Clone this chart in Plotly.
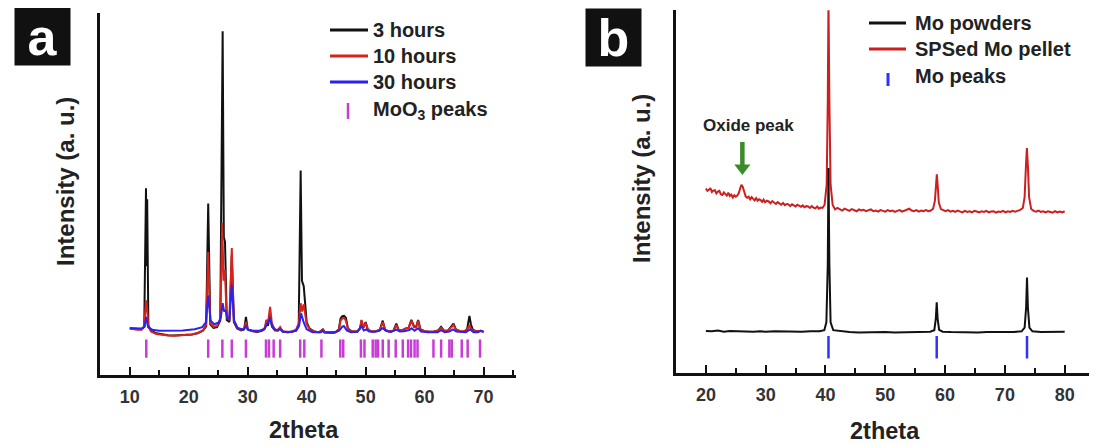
import plotly.graph_objects as go

# ---------------- data ----------------
# Panel a: XRD of milled samples (2theta, intensity a.u.)
hours3 = [(10.0,12.9),(10.6,12.8),(11.3,12.7),(12.0,12.6),(12.45,13.3),(12.75,51.5),(12.85,30.0),(12.95,48.5),(13.15,13.6),(13.6,12.2),(14.5,11.5),(15.5,11.2),(16.5,11.0),(17.5,10.9),(18.5,11.0),(19.5,11.0),(20.5,11.2),(21.5,11.5),(22.4,12.2),(22.95,13.4),(23.3,47.3),(23.65,14.0),(24.2,13.0),(24.8,13.2),(25.35,15.0),(25.75,94.8),(25.95,38.0),(26.15,36.7),(26.45,15.2),(26.9,14.6),(27.3,33.0),(27.65,14.6),(28.2,12.8),(28.9,12.3),(29.4,12.6),(29.7,16.0),(30.0,12.6),(30.8,12.1),(31.6,11.9),(32.4,12.2),(32.9,12.8),(33.15,14.3),(33.45,13.6),(33.75,16.5),(34.1,13.4),(34.6,12.3),(35.1,12.2),(35.5,13.0),(35.9,12.0),(36.7,11.8),(37.5,11.9),(38.2,12.3),(38.65,13.8),(38.98,56.4),(39.2,26.0),(39.5,24.5),(39.7,21.0),(40.0,14.5),(40.5,12.8),(41.3,12.0),(42.1,11.8),(42.5,12.3),(42.75,12.6),(43.1,11.8),(44.0,11.7),(44.9,11.8),(45.45,12.6),(45.75,15.6),(46.05,16.2),(46.35,16.3),(46.65,15.8),(47.0,12.8),(47.7,12.0),(48.6,12.0),(49.05,12.8),(49.3,15.0),(49.6,13.0),(50.0,14.6),(50.35,12.6),(51.0,12.0),(51.7,12.1),(52.4,12.4),(52.9,15.0),(53.3,12.4),(54.0,12.0),(54.7,12.2),(55.2,14.2),(55.6,12.4),(56.2,12.3),(56.7,12.8),(57.3,13.0),(57.75,15.2),(58.2,13.4),(58.55,13.2),(58.9,15.2),(59.3,12.6),(60.0,12.1),(60.8,11.9),(61.6,12.0),(62.3,12.3),(62.8,13.3),(63.3,12.2),(64.0,12.3),(64.5,13.2),(64.9,14.2),(65.3,12.6),(66.0,12.1),(66.7,12.0),(67.2,12.6),(67.6,16.3),(67.85,14.0),(68.2,12.4),(68.9,12.0),(69.5,12.2),(70.0,11.9)]

hours10 = [(10.0,12.8),(10.6,12.6),(11.3,12.5),(12.0,12.5),(12.45,13.4),(12.75,20.6),(12.95,18.0),(13.15,13.4),(13.6,12.0),(14.5,11.3),(15.5,11.0),(16.5,10.9),(17.5,10.8),(18.5,10.9),(19.5,11.0),(20.5,11.2),(21.5,11.6),(22.4,12.3),(22.95,13.8),(23.3,33.9),(23.65,14.3),(24.2,13.3),(24.8,13.5),(25.35,15.5),(25.68,42.0),(25.9,26.0),(26.12,29.0),(26.45,15.8),(26.9,15.2),(27.3,35.0),(27.65,15.0),(28.2,13.0),(28.9,12.5),(29.4,12.7),(29.7,14.6),(30.0,12.6),(30.8,12.1),(31.6,12.0),(32.4,12.3),(32.9,13.0),(33.15,15.2),(33.45,14.6),(33.8,18.8),(34.1,14.2),(34.6,12.5),(35.1,12.3),(35.5,13.2),(35.9,12.1),(36.7,11.9),(37.5,12.0),(38.2,12.5),(38.65,14.2),(38.98,19.8),(39.2,17.5),(39.5,19.5),(39.75,17.0),(40.0,14.0),(40.5,12.6),(41.3,11.9),(42.1,11.8),(42.5,12.2),(42.75,12.5),(43.1,11.8),(44.0,11.7),(44.9,11.8),(45.45,12.5),(45.75,15.0),(46.05,15.6),(46.35,15.8),(46.65,15.0),(47.0,12.7),(47.7,12.0),(48.6,12.0),(49.05,12.8),(49.3,15.2),(49.6,13.2),(50.0,14.4),(50.35,12.6),(51.0,12.0),(51.7,12.1),(52.4,12.4),(52.9,14.6),(53.3,12.4),(54.0,12.0),(54.7,12.2),(55.2,13.8),(55.6,12.4),(56.2,12.3),(56.7,12.8),(57.3,13.0),(57.75,15.0),(58.2,13.2),(58.55,13.1),(58.9,15.0),(59.3,12.5),(60.0,12.1),(60.8,11.9),(61.6,12.0),(62.3,12.3),(62.8,13.0),(63.3,12.2),(64.0,12.3),(64.5,13.0),(64.9,13.8),(65.3,12.5),(66.0,12.1),(66.7,12.0),(67.2,12.4),(67.6,13.8),(67.85,12.8),(68.2,12.3),(68.9,12.0),(69.5,12.2),(70.0,11.9)]

hours30 = [(10.0,12.9),(11.0,12.8),(12.0,12.8),(12.5,13.3),(12.8,16.0),(13.1,13.2),(13.8,12.5),(15.0,12.2),(17.0,12.2),(19.0,12.3),(21.0,12.6),(22.3,13.2),(22.9,14.5),(23.3,22.0),(23.7,15.0),(24.3,14.0),(25.1,14.5),(25.45,16.0),(25.75,19.8),(26.0,17.5),(26.2,18.0),(26.6,15.5),(26.9,15.5),(27.3,24.8),(27.7,15.0),(28.3,13.0),(29.3,12.5),(29.7,13.5),(30.1,12.4),(31.0,12.2),(32.0,12.2),(32.8,12.6),(33.2,13.8),(33.8,15.7),(34.2,13.2),(34.8,12.4),(35.5,12.6),(36.0,11.9),(37.0,11.8),(38.2,12.2),(38.7,13.5),(39.05,17.0),(39.5,14.5),(40.0,12.6),(41.0,11.8),(42.4,11.8),(42.7,12.2),(43.0,11.7),(44.5,11.6),(45.5,12.2),(46.0,13.3),(46.3,13.5),(46.8,12.3),(47.5,11.8),(48.6,11.9),(49.25,13.5),(49.7,12.3),(50.1,12.6),(50.6,12.0),(51.5,11.9),(52.2,12.1),(52.9,12.9),(53.5,12.1),(54.3,11.9),(55.2,12.5),(55.8,12.0),(56.5,12.1),(57.4,12.4),(57.8,12.9),(58.3,12.2),(58.9,12.9),(59.4,12.0),(60.5,11.8),(61.5,11.9),(62.2,11.8),(62.8,12.4),(63.4,11.8),(64.2,12.0),(64.8,12.6),(65.4,12.0),(66.3,11.8),(67.0,11.8),(67.7,12.6),(68.3,11.8),(69.0,11.8),(69.6,12.2),(70.0,11.9)]

moo3_peak_positions = [12.8, 23.3, 25.7, 27.3, 29.7, 33.1, 33.6, 34.4, 35.5, 38.9, 39.6, 42.5,
                       45.7, 46.2, 49.2, 49.8, 51.2, 51.7, 52.1, 52.9, 53.9, 55.1, 56.3, 57.2,
                       57.7, 58.3, 58.8, 61.5, 62.8, 64.2, 64.6, 66.3, 67.3, 69.4]
moo3_tick_level = 7.3

# Panel b: Mo powders vs SPSed Mo pellet
mo_powders = [(20.0,11.6),(21.0,11.5),(22.0,11.7),(23.0,11.4),(24.0,11.6),(25.0,11.5),(26.0,11.4),(27.0,11.5),(28.0,11.4),(29.0,11.5),(30.0,11.4),(31.5,11.5),(33.0,11.4),(34.5,11.5),(36.0,11.4),(37.5,11.5),(39.0,11.5),(39.8,11.8),(40.15,14.0),(40.38,30.0),(40.5,56.5),(40.65,30.0),(40.85,14.0),(41.3,11.8),(42.5,11.5),(44.0,11.3),(45.5,11.2),(47.0,11.3),(48.5,11.2),(50.0,11.3),(51.5,11.2),(53.0,11.3),(54.5,11.2),(56.0,11.3),(57.5,11.4),(58.2,11.8),(58.45,15.0),(58.6,19.5),(58.75,15.0),(59.0,11.9),(59.6,11.4),(61.0,11.3),(62.5,11.2),(64.0,11.3),(65.5,11.2),(67.0,11.3),(68.5,11.2),(70.0,11.3),(71.5,11.3),(72.8,11.5),(73.3,12.5),(73.55,18.0),(73.7,26.3),(73.85,18.0),(74.1,12.5),(74.6,11.5),(76.0,11.3),(77.5,11.4),(79.0,11.3),(80.0,11.4)]

sps_pellet = [(20.0,50.9),(20.25,50.2),(20.5,50.5),(20.75,51.0),(21.0,49.9),(21.25,50.3),(21.5,50.4),(21.75,49.5),(22.0,50.0),(22.25,50.2),(22.5,49.3),(22.75,49.1),(23.0,49.8),(23.25,49.4),(23.5,48.9),(23.75,49.7),(24.0,48.8),(24.25,49.2),(24.5,48.4),(24.75,49.0),(25.0,48.6),(25.25,48.9),(25.5,49.6),(25.75,51.0),(25.95,51.9),(26.15,51.4),(26.4,49.8),(26.65,48.7),(26.9,48.3),(27.15,48.6),(27.4,47.9),(27.65,48.5),(27.9,48.0),(28.15,47.6),(28.4,48.2),(28.65,47.5),(28.9,47.9),(29.15,47.7),(29.4,47.2),(29.65,47.8),(29.9,47.1),(30.2,47.5),(30.5,47.3),(30.8,46.8),(31.1,47.4),(31.4,46.9),(31.7,46.6),(32.0,47.1),(32.3,46.7),(32.6,46.4),(32.9,46.9),(33.2,46.3),(33.5,46.6),(33.8,46.5),(34.1,46.0),(34.4,46.5),(34.7,46.2),(35.0,45.9),(35.3,46.4),(35.6,46.0),(35.9,45.8),(36.2,46.2),(36.5,45.7),(36.8,46.0),(37.1,45.9),(37.4,45.5),(37.7,46.0),(38.0,45.6),(38.3,45.4),(38.6,45.9),(38.9,45.3),(39.2,45.6),(39.5,45.5),(39.85,46.4),(40.2,52.0),(40.38,75.0),(40.5,103.0),(40.65,75.0),(40.85,52.0),(41.2,46.3),(41.6,45.1),(42.0,45.5),(42.4,45.2),(42.8,44.8),(43.2,45.3),(43.6,45.0),(44.0,44.7),(44.4,45.2),(44.8,44.9),(45.2,44.6),(45.6,45.1),(46.0,44.8),(46.4,45.0),(46.8,44.6),(47.2,44.9),(47.6,45.1),(48.0,44.6),(48.4,44.8),(48.8,44.5),(49.2,44.9),(49.6,44.7),(50.0,44.5),(50.4,44.9),(50.8,44.6),(51.2,44.8),(51.6,44.4),(52.0,44.7),(52.4,44.9),(52.8,44.5),(53.2,44.8),(53.6,45.1),(54.0,45.3),(54.4,44.8),(54.8,44.6),(55.2,44.9),(55.6,44.5),(56.0,44.8),(56.4,44.6),(56.8,44.9),(57.2,44.6),(57.6,44.8),(58.0,45.3),(58.3,47.5),(58.5,53.0),(58.62,54.8),(58.75,52.0),(58.95,47.0),(59.3,45.2),(59.7,44.8),(60.1,44.6),(60.5,44.9),(60.9,44.5),(61.3,44.7),(61.7,44.4),(62.1,44.8),(62.5,44.5),(62.9,44.3),(63.3,44.7),(63.7,44.4),(64.1,44.6),(64.5,44.3),(64.9,44.7),(65.3,44.5),(65.7,44.3),(66.1,44.6),(66.5,44.4),(66.9,44.7),(67.3,44.3),(67.7,44.5),(68.1,44.6),(68.5,44.2),(68.9,44.5),(69.3,44.4),(69.7,44.7),(70.1,44.3),(70.5,44.6),(70.9,44.4),(71.3,44.7),(71.7,44.5),(72.1,44.6),(72.5,44.9),(73.0,45.5),(73.3,48.5),(73.52,57.0),(73.68,62.0),(73.85,57.0),(74.05,48.5),(74.4,45.2),(74.8,44.7),(75.2,44.5),(75.6,44.8),(76.0,44.4),(76.4,44.6),(76.8,44.3),(77.2,44.6),(77.6,44.4),(78.0,44.2),(78.4,44.6),(78.8,44.3),(79.2,44.5),(79.6,44.3),(80.0,44.6)]

mo_peak_positions = [40.5, 58.6, 73.7]
mo_tick_level = 7.1

oxide_arrow_x = 26.1
oxide_arrow_head_y = 56.5          # arrow head centre (points down to the oxide peak)
oxide_arrow_tail_y = 63.7
oxide_label_pos = (27.1, 68.3)

x_ticks_a = [10, 20, 30, 40, 50, 60, 70]
x_ticks_b = [20, 30, 40, 50, 60, 70, 80]

# series names / colours (legend text)
names_a = ["3 hours", "10 hours", "30 hours", "MoO<sub>3</sub> peaks"]
colors_a = ["#111111", "#d8221c", "#2a22f0", "#c83cd6"]
names_b = ["Mo powders", "SPSed Mo pellet", "Mo peaks"]
colors_b = ["#111111", "#cc1f1f", "#3030ff"]
GREEN = "#3b8b2b"

# ---------------- figure ----------------
W, H = 1113, 446
FONT = "Arial, Liberation Sans, sans-serif"
TXT = "#222222"


def xs(p):
    return [a for a, _ in p]


def ys(p):
    return [b for _, b in p]


def px(x):
    return x / W


def py(y):
    return 1 - y / H


fig = go.Figure()

# panel a
fig.add_trace(go.Scatter(x=moo3_peak_positions, y=[moo3_tick_level] * len(moo3_peak_positions),
                         mode="markers", name=names_a[3],
                         marker=dict(symbol="line-ns", size=13, color=colors_a[3],
                                     line=dict(color=colors_a[3], width=2.5)),
                         xaxis="x", yaxis="y"))
for series, nm, col in ((hours3, names_a[0], colors_a[0]), (hours10, names_a[1], colors_a[1]),
                        (hours30, names_a[2], colors_a[2])):
    fig.add_trace(go.Scatter(x=xs(series), y=ys(series), mode="lines", name=nm,
                             line=dict(color=col, width=2), xaxis="x", yaxis="y"))

# panel b (pellet drawn first, powders on top)
fig.add_trace(go.Scatter(x=xs(sps_pellet), y=ys(sps_pellet), mode="lines", name=names_b[1],
                         line=dict(color=colors_b[1], width=2), xaxis="x2", yaxis="y2"))
fig.add_trace(go.Scatter(x=xs(mo_powders), y=ys(mo_powders), mode="lines", name=names_b[0],
                         line=dict(color=colors_b[0], width=2), xaxis="x2", yaxis="y2"))
fig.add_trace(go.Scatter(x=mo_peak_positions, y=[mo_tick_level] * len(mo_peak_positions),
                         mode="markers", name=names_b[2],
                         marker=dict(symbol="line-ns", size=16, color=colors_b[2],
                                     line=dict(color=colors_b[2], width=2.5)),
                         xaxis="x2", yaxis="y2"))

# oxide peak arrow: shaft + head
fig.add_trace(go.Scatter(x=[oxide_arrow_x, oxide_arrow_x], y=[oxide_arrow_tail_y, oxide_arrow_head_y],
                         mode="lines", line=dict(color=GREEN, width=4.5), hoverinfo="skip",
                         xaxis="x2", yaxis="y2", name="oxide arrow"))
fig.add_trace(go.Scatter(x=[oxide_arrow_x], y=[oxide_arrow_head_y], mode="markers",
                         marker=dict(symbol="triangle-down", size=14, color=GREEN),
                         hoverinfo="skip", xaxis="x2", yaxis="y2", name="oxide arrow head"))

axis_common = dict(showline=True, linecolor="#111111", linewidth=2.5, showgrid=False,
                   zeroline=False, mirror=False)
xa_common = dict(axis_common, ticks="inside", ticklen=8, tickwidth=2, tickcolor="#111111",
                 tickfont=dict(family=FONT, size=18, color="#333333", weight="bold"),
                 ticklabelstandoff=4,
                 minor=dict(ticks="inside", ticklen=5, tickwidth=2, tickcolor="#111111", dtick=5))
ya_common = dict(axis_common, showticklabels=False, ticks="")

fig.update_layout(
    width=W, height=H, autosize=False,
    margin=dict(l=0, r=0, t=0, b=0),
    paper_bgcolor="white", plot_bgcolor="white",
    showlegend=False,
    xaxis=dict(xa_common, domain=[92.3 / W, 508 / W], range=[5, 75.5],
               tickvals=x_ticks_a, anchor="y"),
    yaxis=dict(ya_common, domain=[(H - 367) / H, (H - 4.5) / H], range=[0, 100], anchor="x"),
    xaxis2=dict(xa_common, domain=[668 / W, 1080.6 / W], range=[15, 84],
                tickvals=x_ticks_b, anchor="y2"),
    yaxis2=dict(ya_common, domain=[(H - 365) / H, (H - 2.3) / H], range=[0, 100], anchor="x2"),
)

title_font = dict(family=FONT, size=24, color=TXT, weight="bold")
# y-axis titles
for cx, cy in ((57, 174), (633, 171)):
    fig.add_annotation(xref="paper", yref="paper", x=px(cx), y=py(cy), textangle=-90,
                       xanchor="center", yanchor="middle", showarrow=False,
                       text="Intensity (a. u.)", font=title_font)
# x-axis titles
for cx, cy in ((296, 422), (877, 423)):
    fig.add_annotation(xref="paper", yref="paper", x=px(cx), y=py(cy),
                       xanchor="center", yanchor="middle", showarrow=False,
                       text="2theta", font=dict(title_font, size=23.5))

# legends (drawn as keys + labels)
leg_font = dict(family=FONT, size=20, color=TXT, weight="bold")
rows_a = [22, 48, 74, 102]
for i, (nm, col) in enumerate(zip(names_a, colors_a)):
    if i < 3:
        fig.add_shape(type="line", xref="paper", yref="paper", x0=px(322), x1=px(360),
                      y0=py(rows_a[i]), y1=py(rows_a[i]), line=dict(color=col, width=3))
    else:
        fig.add_shape(type="line", xref="paper", yref="paper", x0=px(340), x1=px(340),
                      y0=py(rows_a[i] - 7), y1=py(rows_a[i] + 9), line=dict(color=col, width=2.5))
    fig.add_annotation(xref="paper", yref="paper", x=px(363), y=py(rows_a[i]), text=nm,
                       xanchor="left", yanchor="middle", showarrow=False, font=leg_font)

rows_b = [15, 41, 68]
for i, (nm, col) in enumerate(zip(names_b, colors_b)):
    if i < 2:
        fig.add_shape(type="line", xref="paper", yref="paper", x0=px(861), x1=px(898),
                      y0=py(rows_b[i]), y1=py(rows_b[i]), line=dict(color=col, width=3))
    else:
        fig.add_shape(type="line", xref="paper", yref="paper", x0=px(880), x1=px(880),
                      y0=py(rows_b[i] - 3), y1=py(rows_b[i] + 10), line=dict(color=col, width=3))
    fig.add_annotation(xref="paper", yref="paper", x=px(905), y=py(rows_b[i]), text=nm,
                       xanchor="left", yanchor="middle", showarrow=False, font=leg_font)

# panel letters
for letter, cx, cy in (("a", 34.5, 29), ("b", 605, 30)):
    fig.add_annotation(xref="paper", yref="paper", x=px(cx), y=py(cy),
                       xanchor="center", yanchor="middle", showarrow=False,
                       text=letter, width=53, height=55, bgcolor="#111111",
                       font=dict(family=FONT, size=52, color="white", weight="bold"))

# oxide peak label
fig.add_annotation(xref="x2", yref="y2", x=oxide_label_pos[0], y=oxide_label_pos[1],
                   text="Oxide peak", showarrow=False, xanchor="center", yanchor="middle",
                   font=dict(family=FONT, size=17, color=TXT, weight="bold"))

fig.write_html("out.html")
